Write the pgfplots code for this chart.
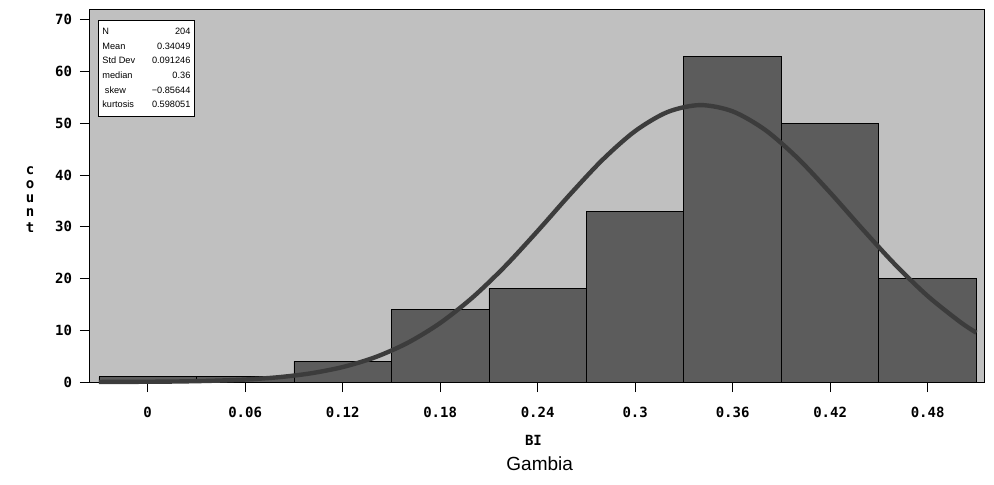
\documentclass[border=0pt]{standalone}
\usepackage{fontspec}
\setmainfont{Liberation Sans}
\newfontfamily\pixfont{DejaVu Sans Mono}
\usepackage{array}
\usepackage{pgfplots}
\pgfplotsset{compat=1.18}
\definecolor{panel}{HTML}{C0C0C0}
\definecolor{barfill}{HTML}{5C5C5C}
\definecolor{curve}{HTML}{3C3C3C}
\begin{document}
\begin{tikzpicture}
\path[use as bounding box] (-45pt,-51pt) rectangle (452pt,191pt);
\begin{axis}[
    scale only axis,
    width=447pt,
    height=186pt,
    xmin=-0.0355, xmax=0.5147,
    ymin=0, ymax=71.9,
    axis background/.style={fill=panel},
    axis line style={black, line width=0.5pt},
    xtick={0,0.06,0.12,0.18,0.24,0.3,0.36,0.42,0.48},
    xticklabels={0,0.06,0.12,0.18,0.24,0.3,0.36,0.42,0.48},
    ytick={0,10,20,30,40,50,60,70},
    xtick pos=bottom, ytick pos=left,
    tick align=outside,
    major tick length=5pt,
    tick style={black, line width=0.4pt},
    /pgf/number format/assume math mode=true,
    tick label style={font=\pixfont\bfseries\fontsize{7}{8}\selectfont},
    xticklabel style={yshift=-4pt},
    yticklabel style={xshift=-0.5pt},
    clip=false,
]
% histogram, bins of width 0.06 centred on 0, 0.06, ..., 0.48
\addplot[ybar, bar width=0.06, bar shift=0pt, fill=barfill, draw=black, line width=0.4pt]
coordinates {
(0.00,1)
(0.06,1)
(0.12,4)
(0.18,14)
(0.24,18)
(0.30,33)
(0.36,63)
(0.42,50)
(0.48,20)
};
% fitted normal curve (mean 0.34049, sd 0.091246)
\addplot[color=curve, line width=2.2pt, smooth]
coordinates {
(-0.03,0.01)
(0.00,0.05)
(0.02,0.11)
(0.04,0.24)
(0.06,0.48)
(0.08,0.91)
(0.10,1.66)
(0.12,2.89)
(0.14,4.79)
(0.16,7.57)
(0.18,11.40)
(0.20,16.36)
(0.22,22.38)
(0.24,29.19)
(0.26,36.28)
(0.28,42.97)
(0.30,48.50)
(0.32,52.19)
(0.34,53.52)
(0.36,52.31)
(0.38,48.73)
(0.40,43.27)
(0.42,36.61)
(0.44,29.53)
(0.46,22.70)
(0.48,16.63)
(0.50,11.61)
(0.51,9.53)
};
\node[draw=black, fill=white, line width=0.4pt, anchor=north west, inner sep=2pt,
      font=\fontsize{4.6}{7.3}\selectfont]
  at ([xshift=4pt,yshift=-5pt]rel axis cs:0,1) {%
  \begin{tabular}{@{}p{18pt}@{}>{\raggedleft\arraybackslash}p{26pt}@{}}
  N & 204\\
  Mean & 0.34049\\
  Std Dev & 0.091246\\
  median & 0.36\\
  \ skew & −0.85644\\
  kurtosis & 0.598051
  \end{tabular}};
\node[font=\pixfont\bfseries\fontsize{7}{8}\selectfont, anchor=center] at ([yshift=-29pt]axis description cs:0.496,0) {BI};
\node[font=\pixfont\bfseries\fontsize{7}{7.4}\selectfont, anchor=center] at (axis description cs:-0.067,0.49) {\shortstack{c\\o\\u\\n\\t}};
\node[font=\fontsize{9.5}{11}\selectfont, anchor=center] at ([yshift=-41pt]axis description cs:0.503,0) {Gambia};
\end{axis}
\end{tikzpicture}
\end{document}
